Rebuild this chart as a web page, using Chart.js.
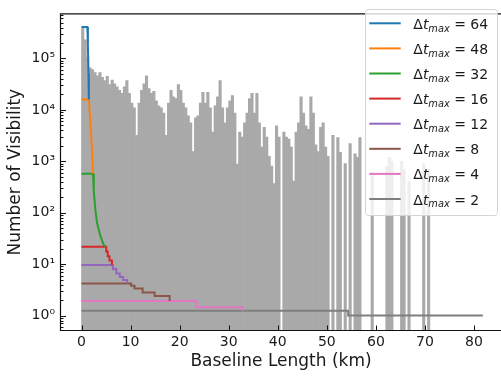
<!DOCTYPE html>
<html>
<head>
<meta charset="utf-8">
<script src="https://cdn.jsdelivr.net/npm/chart.js@4.4.1/dist/chart.umd.min.js"></script>
<style>
  html, body { margin: 0; padding: 0; background: #fff; overflow: hidden; }
</style>
</head>
<body>
<canvas id="chart" width="501" height="378"></canvas>
<script>
// ==========================================
// データ
// ==========================================

// histogram: number of visibilities per 0.5 km baseline bin (null = empty bin)
const BIN_WIDTH_KM = 0.5;
const visPerBin = [
  4.0e5, 2.3e5, 1.05e5, 6.6e4, 6.1e4, 5.3e4, 4.6e4, 5.3e4, 4.3e4, 3.7e4,
  4.5e4, 3.1e4, 3.8e4, 3.2e4, 2.8e4, 2.4e4, 2.1e4, 2.8e4, 3.7e4, 2.1e4,
  1.35e4, 1.1e4, 3.2e3, 1.35e4, 2.4e4, 3.2e4, 4.6e4, 2.6e4, 2.1e4, 2.3e4,
  1.5e4, 1.2e4, 1.1e4, 8.7e3, 3.2e3, 1.35e4, 2.4e4, 1.8e4, 1.66e4, 3.1e4,
  2.4e4, 1.35e4, 1.1e4, 7.7e3, 5.6e3, 1.55e3, 7.0e3, 7.7e3, 1.35e4, 2.2e4,
  1.35e4, 2.2e4, 1.1e4, 3.7e3, 1.2e4, 1.8e4, 3.7e4, 1.1e4, 5.6e3, 1.1e4,
  1.5e4, 1.9e4, 8.7e3, 880, 3.7e3, 2.95e3, 5.6e3, 8.7e3, 1.66e4, 2.1e4,
  8.7e3, 2.1e4, 5.6e3, 1.9e3, 4.6e3, 2.95e3, 1.25e3, 810, 370, 4.9e3,
  2.95e3, null, 3.7e3, 2.95e3, 2.7e3, 1.9e3, 410, 3.7e3, 5.6e3, 1.8e4,
  8.7e3, 4.9e3, 4.2e3, 1.8e4, 8.7e3, 2.1e3, 1.55e3, 4.6e3, 5.6e3, 1.9e3,
  1250, null, 3200, null, 2900, 1500, null, 900, null, 2200,
  null, 1400, 1200, 2900, null, null, null, null, 600, null,
  null, null, null, null, 800, 1200, 1000, null, null, null,
  1000, 700, null, 400, null, null, null, null, null, 900,
  null, 700
];

// Δt_max curves (step points: baseline km / visibility)
const dt64Km  = [0, 1.18, 1.3, 1.42, 1.5];
const dt64Vis = [4.1e5, 4.1e5, 1.9e5, 5.0e4, 1.6e4];
const dt48Km  = [0, 1.5, 1.84, 2.18, 2.35];
const dt48Vis = [1.6e4, 1.6e4, 5.2e3, 1.42e3, 575];
const dt32Km  = [0, 2.35, 2.51, 2.86, 3.2, 3.88, 4.55, 5.0];
const dt32Vis = [575, 575, 252, 106, 61, 34.6, 23.4, 21.8];
const dt16Km  = [0, 5.04, 5.35, 5.7, 6.2];
const dt16Vis = [21.8, 17.5, 14.3, 11.7, 9.6];
const dt12Km  = [0, 6.4, 7.1, 7.8, 8.5, 9.3];
const dt12Vis = [9.6, 8.0, 6.6, 5.6, 4.9, 4.2];
const dt8Km   = [0, 10.1, 10.8, 12.45, 14.9, 17.96];
const dt8Vis  = [4.2, 3.8, 3.35, 2.8, 2.4, 1.91];
const dt4Km   = [0, 23.4, 32.9];
const dt4Vis  = [1.91, 1.45, 1.24];
const dt2Km   = [0, 54.35, 81.8];
const dt2Vis  = [1.24, 1.0, 1.0];

const dtMaxLabels = [64, 48, 32, 16, 12, 8, 4, 2];
const dtColors = ['#1f77b4', '#ff7f0e', '#2ca02c', '#d62728', '#9467bd', '#8c564b', '#e377c2', '#7f7f7f'];
const dtStepped = [false, false, false, true, true, true, true, true];

const xTickKm = [0, 10, 20, 30, 40, 50, 60, 70, 80];
const yTickVis = [1, 10, 100, 1000, 10000, 100000];

// ==========================================
// グラフ
// ==========================================

const FONT = 'DejaVu Sans';
const TEXT = '#1a1a1a';
const SUP = { '0': '⁰', '1': '¹', '2': '²', '3': '³', '4': '⁴', '5': '⁵' };

const curveKm = [dt64Km, dt48Km, dt32Km, dt16Km, dt12Km, dt8Km, dt4Km, dt2Km];
const curveVis = [dt64Vis, dt48Vis, dt32Vis, dt16Vis, dt12Vis, dt8Vis, dt4Vis, dt2Vis];

const lineSets = dtMaxLabels.map((dt, i) => ({
  type: 'line',
  label: 'Δt_max = ' + dt,
  data: curveKm[i].map((k, j) => ({ x: k, y: curveVis[i][j] })),
  borderColor: dtColors[i],
  borderWidth: 2,
  pointRadius: 0,
  fill: false,
  tension: 0,
  stepped: dtStepped[i],
  order: 1
}));

const histSet = {
  type: 'bar',
  label: 'visibilities',
  data: visPerBin.map((v, i) => ({ x: BIN_WIDTH_KM * (i + 0.5), y: v })),
  backgroundColor: '#a9a9a9',
  borderWidth: 0,
  barPercentage: 1,
  categoryPercentage: 1,
  order: 2
};

// frame, inward ticks and the legend box
const framePlugin = {
  id: 'frame',
  afterDatasetsDraw(chart) {
    const { ctx, chartArea: a, scales: { x, y } } = chart;
    ctx.save();
    ctx.strokeStyle = '#111';
    ctx.lineWidth = 1.2;
    ctx.beginPath();
    ctx.moveTo(a.right + 2, a.top - 0.5);
    ctx.lineTo(a.left - 0.5, a.top - 0.5);
    ctx.lineTo(a.left - 0.5, a.bottom + 0.5);
    ctx.lineTo(a.right + 2, a.bottom + 0.5);
    ctx.stroke();

    ctx.lineWidth = 1;
    ctx.beginPath();
    xTickKm.forEach(k => {
      const px = Math.round(x.getPixelForValue(k)) + 0.5;
      ctx.moveTo(px, a.bottom);
      ctx.lineTo(px, a.bottom - 4.5);
    });
    yTickVis.forEach(v => {
      const py = Math.round(y.getPixelForValue(v)) + 0.5;
      ctx.moveTo(a.left, py);
      ctx.lineTo(a.left + 5, py);
    });
    for (let e = -1; e <= 5; e++) {
      for (let m = 2; m <= 9; m++) {
        const v = m * Math.pow(10, e);
        if (v < y.min || v > y.max) continue;
        const py = Math.round(y.getPixelForValue(v)) + 0.5;
        ctx.moveTo(a.left, py);
        ctx.lineTo(a.left + 2.5, py);
      }
    }
    ctx.stroke();

    // legend
    const L = 365.5, T = 9.5, R = 497.5, B = 215.5, r = 3;
    ctx.beginPath();
    ctx.moveTo(L + r, T);
    ctx.arcTo(R, T, R, B, r);
    ctx.arcTo(R, B, L, B, r);
    ctx.arcTo(L, B, L, T, r);
    ctx.arcTo(L, T, R, T, r);
    ctx.closePath();
    ctx.fillStyle = 'rgba(255,255,255,0.8)';
    ctx.fill();
    ctx.strokeStyle = '#d4d4d4';
    ctx.lineWidth = 1;
    ctx.stroke();

    ctx.fillStyle = TEXT;
    ctx.textBaseline = 'alphabetic';
    ctx.textAlign = 'left';
    dtMaxLabels.forEach((dt, i) => {
      const cy = 23.3 + 25.1 * i;
      ctx.strokeStyle = dtColors[i];
      ctx.lineWidth = 2;
      ctx.beginPath();
      ctx.moveTo(369.3, cy);
      ctx.lineTo(400.7, cy);
      ctx.stroke();

      const base = cy + 5.5;
      let tx = 413.3;
      ctx.font = '14px "' + FONT + '"';
      ctx.fillText('Δ', tx, base);
      tx += ctx.measureText('Δ').width;
      ctx.font = 'italic 14px "' + FONT + '"';
      ctx.fillText('t', tx, base);
      tx += ctx.measureText('t').width;
      ctx.font = 'italic 9.8px "' + FONT + '"';
      ctx.fillText('max', tx, base + 2.7);
      tx += ctx.measureText('max').width;
      ctx.font = '14px "' + FONT + '"';
      ctx.fillText(' = ' + dt, tx, base);
    });
    ctx.restore();
  }
};

new Chart(document.getElementById('chart'), {
  type: 'line',
  data: { datasets: [histSet, ...lineSets] },
  options: {
    responsive: false,
    animation: false,
    devicePixelRatio: 1,
    layout: { padding: { top: 3, right: 0, bottom: 0, left: 0 } },
    plugins: {
      legend: { display: false },
      tooltip: { enabled: false }
    },
    scales: {
      x: {
        type: 'linear',
        min: -4.18,
        max: 85.5,
        offset: false,
        grid: { display: false, drawTicks: false },
        border: { display: false },
        ticks: {
          font: { family: FONT, size: 14 },
          color: TEXT,
          padding: 4,
          autoSkip: false,
          maxRotation: 0,
          includeBounds: false,
          callback: v => String(v)
        },
        afterBuildTicks: s => { s.ticks = xTickKm.map(v => ({ value: v })); },
        afterFit: s => { s.height = 48; },
        title: {
          display: true,
          text: 'Baseline Length (km)',
          font: { family: FONT, size: 17 },
          color: TEXT,
          padding: { top: 0, bottom: 5.8 }
        }
      },
      y: {
        type: 'logarithmic',
        min: 0.523,
        max: 7.2e5,
        grid: { display: false, drawTicks: false },
        border: { display: false },
        ticks: {
          font: { family: FONT, size: 14 },
          color: TEXT,
          padding: 6,
          autoSkip: false,
          callback: v => '10' + SUP[String(Math.round(Math.log10(v)))]
        },
        afterBuildTicks: s => { s.ticks = yTickVis.map(v => ({ value: v })); },
        afterFit: s => { s.width = 61; },
        title: {
          display: true,
          text: 'Number of Visibility',
          font: { family: FONT, size: 17 },
          color: TEXT,
          padding: { top: 5.5, bottom: 0 }
        }
      }
    }
  },
  plugins: [framePlugin]
});
</script>
</body>
</html>
